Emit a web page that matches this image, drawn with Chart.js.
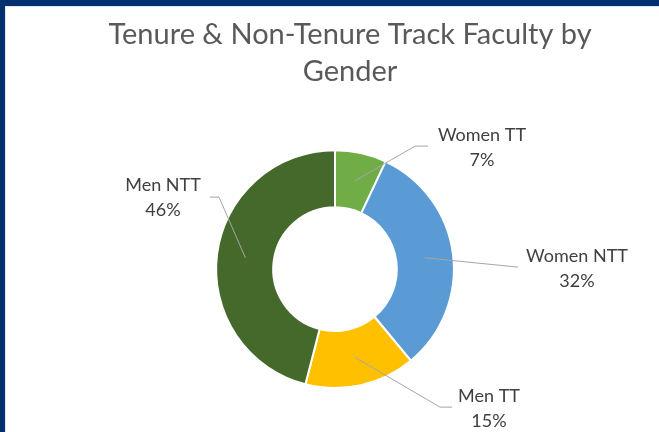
<!DOCTYPE html>
<html>
<head>
<meta charset="utf-8">
<script src="https://cdn.jsdelivr.net/npm/chart.js@4.4.1/dist/chart.umd.min.js"></script>
<style>
  html, body { margin: 0; padding: 0; width: 659px; height: 432px; overflow: hidden; background: #ffffff; }
  #frame { position: absolute; left: 0; top: 0; width: 659px; height: 432px; background: #00306f; }
  #panel { position: absolute; left: 5px; top: 6px; width: 654px; height: 426px; background: #ffffff; border-left: 1px solid #e4e8f0; border-top: 1px solid #e4e8f0; box-sizing: border-box; }
  #wrap { position: absolute; left: 35px; top: 0; width: 618px; height: 425px; }
</style>
</head>
<body>
<div id="frame"><div id="panel"><div id="wrap"><canvas id="c"></canvas></div></div></div>
<script>
const categories = ["Women TT", "Women NTT", "Men TT", "Men NTT"];
const shares = [7, 32, 15, 46];
const sliceColors = ["#70ad47", "#5b9bd5", "#ffc000", "#44692b"];
const titleLines = ["Tenure & Non-Tenure Track Faculty by", "Gender"];

// label placement: x as page x, y relative to doughnut centre (layout only)
const labelLayout = [
  { text: [482, -134], path: [[428, -123], [415, -123]] },
  { text: [577, -13],  path: [[518, -2]] },
  { text: [489, 127],  path: [[452, 138], [440, 138]] },
  { text: [163, -84],  path: [[210, -72], [219, -72]] }
];

// shift the plot area left so the ring sits left of the title centre
const shiftPlugin = {
  id: 'shiftArea',
  afterLayout(chart) {
    chart.chartArea.right -= 30;
    chart.chartArea.width -= 30;
  }
};

const leaderPlugin = {
  id: 'leaders',
  afterDatasetsDraw(chart) {
    const ctx = chart.ctx;
    const meta = chart.getDatasetMeta(0);
    ctx.save();
    meta.data.forEach((arc, i) => {
      const p = arc.getProps(['x', 'y', 'startAngle', 'endAngle', 'innerRadius', 'outerRadius'], true);
      const mid = (p.startAngle + p.endAngle) / 2;
      const r = (p.innerRadius + p.outerRadius) / 2;
      const sx = p.x + Math.cos(mid) * r;
      const sy = p.y + Math.sin(mid) * r;
      const L = labelLayout[i];
      const ox = p.x - 335;
      ctx.strokeStyle = '#a6a6a6';
      ctx.lineWidth = 1;
      ctx.beginPath();
      const pts = L.path.map(q => [q[0] + ox, p.y + q[1]]);
      ctx.moveTo(pts[0][0], pts[0][1]);
      for (let k = 1; k < pts.length; k++) ctx.lineTo(pts[k][0], pts[k][1]);
      ctx.lineTo(sx, sy);
      ctx.stroke();
      ctx.fillStyle = '#404040';
      ctx.font = '18px Lato, "Liberation Sans", sans-serif';
      ctx.textAlign = 'center';
      ctx.textBaseline = 'middle';
      const tx = L.text[0] + ox;
      const ty = p.y + L.text[1];
      ctx.fillText(categories[i], tx, ty);
      ctx.fillText(shares[i] + '%', tx, ty + 25);
    });
    ctx.restore();
  }
};

new Chart(document.getElementById('c'), {
  type: 'doughnut',
  data: {
    labels: categories,
    datasets: [{
      data: shares,
      backgroundColor: sliceColors,
      borderColor: '#ffffff',
      borderWidth: 2,
      hoverOffset: 0
    }]
  },
  options: {
    responsive: true,
    maintainAspectRatio: false,
    animation: false,
    cutout: '52%',
    layout: { padding: { left: 0, right: 0, top: 0, bottom: 43 } },
    plugins: {
      legend: { display: false },
      tooltip: { enabled: false },
      title: {
        display: true,
        text: titleLines,
        color: '#595959',
        font: { family: 'Lato, "Liberation Sans", sans-serif', size: 29, weight: 'normal', lineHeight: 1.28 },
        padding: { top: 9, bottom: 59 }
      }
    }
  },
  plugins: [shiftPlugin, leaderPlugin]
});
</script>
</body>
</html>
